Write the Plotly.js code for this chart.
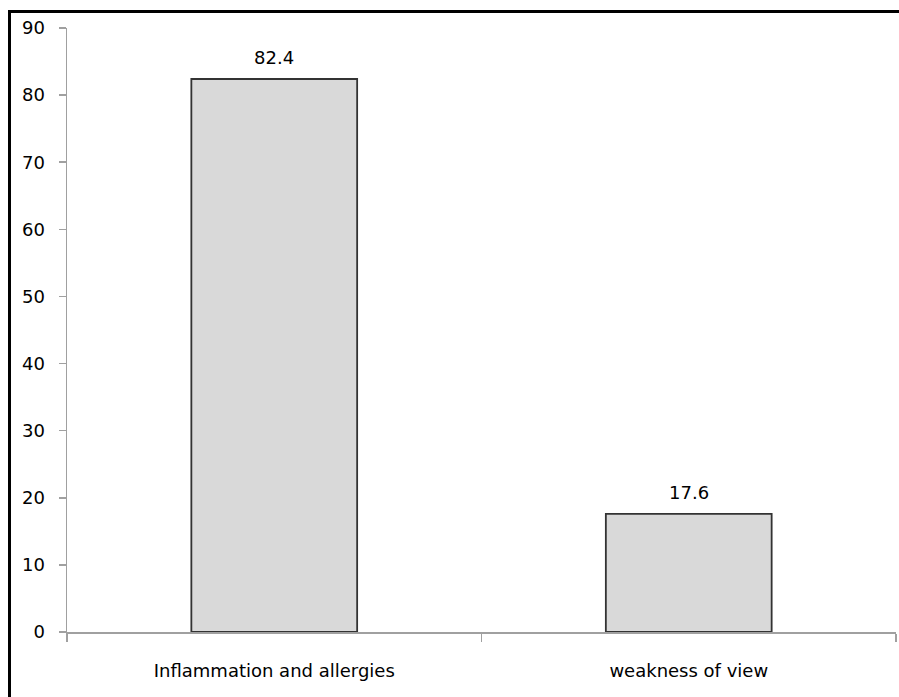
<!DOCTYPE html>
<html>
<head>
<meta charset="utf-8">
<script src="https://cdn.plot.ly/plotly-3.0.1.min.js"></script>
<style>
  html, body { margin: 0; padding: 0; background: #fff; overflow: hidden; }
  #chart { position: absolute; left: 0; top: 0; width: 899px; height: 697px; }
  #frame {
    position: absolute; left: 8px; top: 10px; width: 1000px; height: 1000px;
    border: 3px solid #000; box-sizing: border-box; pointer-events: none;
  }
</style>
</head>
<body>
<div id="chart"></div>
<div id="frame"></div>
<script>
// Share of reported complaints (%)
const categories = ["Inflammation and allergies", "weakness of view"];
const percentages = [82.4, 17.6];
const yTicks = [0, 10, 20, 30, 40, 50, 60, 70, 80, 90];

const FONT = "DejaVu Sans, Verdana, sans-serif";

const bars = {
  type: "bar",
  x: categories,
  y: percentages,
  width: 0.4,
  marker: { color: "#d9d9d9", line: { color: "#333333", width: 1.8 } },
  hoverinfo: "skip"
};

// value labels sit above each bar
const valueLabels = categories.map((c, i) => ({
  x: c,
  y: percentages[i],
  xref: "x",
  yref: "y",
  text: percentages[i].toFixed(1),
  showarrow: false,
  yanchor: "bottom",
  yshift: 9,
  font: { family: FONT, size: 18, color: "#000" }
}));

const layout = {
  width: 899,
  height: 697,
  margin: { l: 67, r: 3, t: 28, b: 65, pad: 0 },
  paper_bgcolor: "#ffffff",
  plot_bgcolor: "#ffffff",
  showlegend: false,
  xaxis: {
    type: "category",
    range: [-0.5, 1.5],
    tickson: "boundaries",
    ticks: "outside",
    ticklen: 8,
    tickwidth: 1.5,
    tickcolor: "#a0a0a0",
    showline: true,
    linecolor: "#a0a0a0",
    linewidth: 1.5,
    showgrid: false,
    zeroline: false,
    tickfont: { family: FONT, size: 18, color: "#000" },
    ticklabelstandoff: 22,
    fixedrange: true
  },
  yaxis: {
    range: [0, 90],
    tickmode: "array",
    tickvals: yTicks,
    ticktext: yTicks.map(String),
    ticks: "outside",
    ticklen: 7,
    tickwidth: 1.5,
    tickcolor: "#a0a0a0",
    showline: true,
    linecolor: "#a0a0a0",
    linewidth: 1.5,
    showgrid: false,
    zeroline: false,
    tickfont: { family: FONT, size: 18, color: "#000" },
    ticklabelstandoff: 10,
    fixedrange: true
  },
  annotations: valueLabels
};

Plotly.newPlot("chart", [bars], layout, { displayModeBar: false, staticPlot: true });
</script>
</body>
</html>
